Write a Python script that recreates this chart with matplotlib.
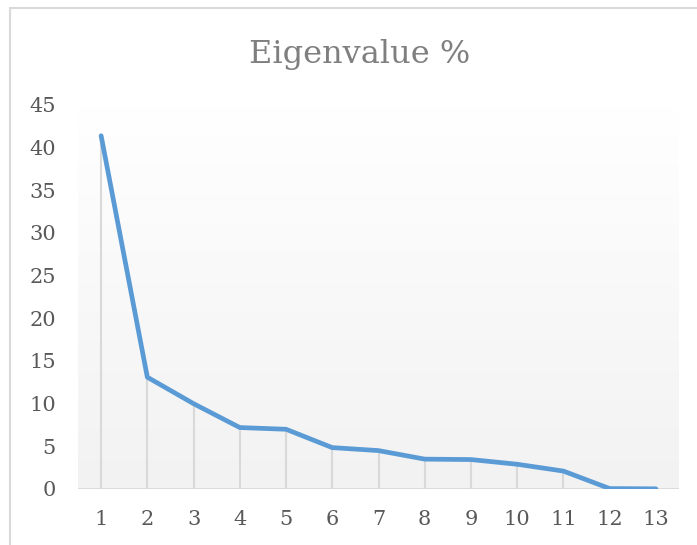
import numpy as np
import matplotlib.pyplot as plt
from matplotlib.patches import Rectangle
from matplotlib.colors import LinearSegmentedColormap

# values
components = list(range(1, 14))
eigen_pct = [41.4, 13.1, 10.0, 7.2, 7.0, 4.85, 4.5, 3.5, 3.45, 2.9, 2.1, 0.05, 0.02]
y_ticks = [0, 5, 10, 15, 20, 25, 30, 35, 40, 45]

plt.rcParams['font.family'] = ['DejaVu Serif']

fig = plt.figure(figsize=(6.97, 5.45), dpi=100)

# chart area border (runs off the right/bottom edge)
fig.patches.append(Rectangle((10 / 697, -0.1), 1.2, 1 - 8 / 545 + 0.1,
                             transform=fig.transFigure, fill=False,
                             edgecolor='#D9D9D9', linewidth=1.5))

ax = fig.add_axes([78 / 697, 56 / 545, 601 / 697, 384 / 545])
ax.set_xlim(0.5, 13.5)
ax.set_ylim(0, 45)

# gradient plot area
bg = LinearSegmentedColormap.from_list('bg', ['#F2F2F2', '#FFFFFF'])
grad = np.linspace(1.0, 0.0, 256).reshape(-1, 1)
ax.imshow(grad, extent=[0.5, 13.5, 0, 45], aspect='auto', cmap=bg,
          vmin=0, vmax=1, zorder=0, origin='upper')

# drop lines
ax.vlines(components, 0, eigen_pct, colors='#D9D9D9', linewidth=1.5, zorder=1)
ax.axhline(0, color='#D9D9D9', linewidth=2, zorder=1)

ax.plot(components, eigen_pct, color='#5B9BD5', linewidth=3.4, solid_capstyle='round',
        solid_joinstyle='round', zorder=3)

for s in ax.spines.values():
    s.set_visible(False)
ax.set_xticks(components)
ax.set_yticks(y_ticks)
ax.tick_params(length=0, labelsize=15, colors='#595959')
ax.tick_params(axis='x', pad=15)
ax.tick_params(axis='y', pad=16)

fig.text(360 / 697, 1 - 63 / 545, 'Eigenvalue %', ha='center', va='baseline',
         fontsize=23, color='#7F7F7F')

fig.savefig('out.png', dpi=100)
